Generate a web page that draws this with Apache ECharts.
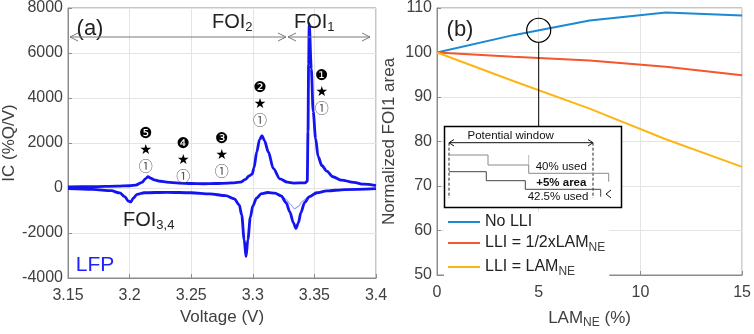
<!DOCTYPE html>
<html>
<head>
<meta charset="utf-8">
<script src="https://cdn.jsdelivr.net/npm/echarts/dist/echarts.min.js"></script>
<style>
html, body { margin: 0; padding: 0; background: #fff; }
#chart { width: 754px; height: 334px; }
</style>
</head>
<body>
<div id="chart"></div>
<script>
// panel (a): incremental capacity vs voltage
const chargeV = [3.150, 3.170, 3.190, 3.200, 3.205, 3.210, 3.213, 3.215, 3.217, 3.220, 3.225, 3.230, 3.240, 3.250, 3.260, 3.270, 3.280, 3.285, 3.290, 3.294, 3.297, 3.2995, 3.301, 3.3032, 3.3055, 3.3075, 3.3095, 3.3126, 3.3167, 3.322, 3.328, 3.333, 3.3425, 3.3442, 3.3448, 3.3453, 3.3458, 3.3475, 3.349, 3.351, 3.353, 3.356, 3.360, 3.365, 3.372, 3.382, 3.390, 3.400]
const chargeIC = [50, 60, 80, 100, 130, 250, 420, 500, 440, 360, 300, 260, 220, 200, 190, 200, 220, 230, 260, 380, 540, 620, 900, 1600, 2150, 2330, 2100, 1600, 860, 410, 260, 220, 230, 300, 2500, 5500, 7300, 5300, 3400, 2200, 1400, 1000, 750, 500, 350, 250, 170, 110]
const dischV = [3.150, 3.170, 3.185, 3.192, 3.196, 3.199, 3.201, 3.203, 3.206, 3.212, 3.230, 3.250, 3.265, 3.278, 3.285, 3.289, 3.291, 3.293, 3.2945, 3.296, 3.298, 3.300, 3.303, 3.307, 3.312, 3.318, 3.323, 3.327, 3.330, 3.333, 3.335, 3.337, 3.339, 3.342, 3.346, 3.352, 3.360, 3.375, 3.400]
const dischIC = [-30, -60, -120, -220, -380, -580, -620, -450, -280, -210, -190, -210, -260, -340, -480, -750, -1200, -2300, -3050, -2300, -1300, -800, -450, -250, -200, -230, -350, -650, -1050, -1550, -1800, -1550, -1100, -650, -380, -210, -130, -70, -30]
// lighter overlapping discharge curve (smaller FOI1 peak)
const dischFaintV = [3.312, 3.318, 3.323, 3.327, 3.330, 3.334, 3.337, 3.340, 3.345, 3.350, 3.357, 3.365]
const dischFaintIC = [-200, -230, -330, -500, -700, -920, -820, -600, -400, -260, -150, -100]

// panel (b): normalized FOI1 area vs LAM_NE
const lamNE = [0, 3.75, 7.5, 11.25, 15]
const areaNoLLI = [100, 103.9, 107.2, 109.0, 108.3]
const areaHalfLLI = [100, 99.05, 98.2, 96.8, 94.9]
const areaFullLLI = [100, 93.6, 87.4, 80.5, 74.3]
const seriesNames = ["No LLI", "LLI = 1/2xLAM_NE", "LLI = LAM_NE"]

const zip = (xs, ys) => xs.map((x, i) => [x, ys[i]])

const font = "'Liberation Sans', Arial, sans-serif"
const axisGray = "#8c8c8c"
const labelGray = "#404040"
const blue = "#1414f0"

function axisCommon(extra) {
	return Object.assign({
		type: "value",
		axisLine: { show: true, onZero: false, lineStyle: { color: axisGray } },
		axisTick: { show: true, inside: true, length: 4, lineStyle: { color: axisGray } },
		splitLine: { show: true, lineStyle: { color: "#e4e4e4" } },
		axisLabel: { color: labelGray, fontSize: 16, fontFamily: font },
		nameTextStyle: { color: labelGray, fontSize: 17, fontFamily: font }
	}, extra)
}

const subRich = {
	s: { fontSize: 12, fontFamily: font, color: labelGray, padding: [10, 0, 0, 0] }
}

const chart = echarts.init(document.getElementById("chart"), null, { renderer: "canvas" })

const option = {
	animation: false,
	backgroundColor: "#fff",
	grid: [
		{ left: 68, top: 7, width: 308, height: 271, show: true, borderColor: axisGray, borderWidth: 1 },
		{ left: 437, top: 7, width: 306, height: 271, show: true, borderColor: axisGray, borderWidth: 1 }
	],
	xAxis: [
		axisCommon({
			gridIndex: 0, min: 3.15, max: 3.4, interval: 0.05,
			name: "Voltage (V)", nameLocation: "middle", nameGap: 30,
			axisLabel: { color: labelGray, fontSize: 16, fontFamily: font, margin: 10,
				formatter: v => String(+v.toFixed(2)) }
		}),
		axisCommon({
			gridIndex: 1, min: 0, max: 15, interval: 5,
			name: "LAM{s|NE} (%)", nameLocation: "middle", nameGap: 32,
			nameTextStyle: { color: labelGray, fontSize: 17, fontFamily: font, rich: subRich },
			axisLabel: { color: labelGray, fontSize: 16, fontFamily: font, margin: 10 }
		})
	],
	yAxis: [
		axisCommon({
			gridIndex: 0, min: -4000, max: 8000, interval: 2000,
			name: "IC (%Q/V)", nameLocation: "middle", nameGap: 40,
			axisLabel: { color: labelGray, fontSize: 16, fontFamily: font, margin: 5,
				formatter: v => String(v) }
		}),
		axisCommon({
			gridIndex: 1, min: 50, max: 110, interval: 10,
			name: "Normalized FOI1 area", nameLocation: "middle", nameGap: 39,
			axisLabel: { color: labelGray, fontSize: 16, fontFamily: font, margin: 5 }
		})
	],
	legend: {
		left: 444, top: 212, orient: "vertical", itemGap: 5,
		icon: "rect", itemWidth: 32, itemHeight: 2, backgroundColor: "#fff", padding: [2, 4, 2, 4],
		data: seriesNames,
		formatter: n => n.replace("_NE", "{s|NE}"),
		textStyle: { color: "#222", fontSize: 16, fontFamily: font, rich: subRich },
		z: 6
	},
	series: [
		{ type: "line", xAxisIndex: 0, yAxisIndex: 0, data: zip(dischFaintV, dischFaintIC),
			showSymbol: false, symbol: "none", smooth: 0.3, smoothMonotone: "x",
			lineStyle: { color: "#a0a0ff", width: 1.2 }, silent: true },
		{ type: "line", xAxisIndex: 0, yAxisIndex: 0, data: zip(chargeV, chargeIC),
			showSymbol: false, symbol: "none", smooth: 0.3, smoothMonotone: "x",
			lineStyle: { color: blue, width: 2.8 } },
		{ type: "line", xAxisIndex: 0, yAxisIndex: 0, data: zip(dischV, dischIC),
			showSymbol: false, symbol: "none", smooth: 0.3, smoothMonotone: "x",
			lineStyle: { color: blue, width: 2.8 } },
		{ name: seriesNames[0], type: "line", xAxisIndex: 1, yAxisIndex: 1, data: zip(lamNE, areaNoLLI),
			symbol: "none", color: "#1b8ad3", lineStyle: { width: 2 } },
		{ name: seriesNames[1], type: "line", xAxisIndex: 1, yAxisIndex: 1, data: zip(lamNE, areaHalfLLI),
			symbol: "none", color: "#f5562a", lineStyle: { width: 2 } },
		{ name: seriesNames[2], type: "line", xAxisIndex: 1, yAxisIndex: 1, data: zip(lamNE, areaFullLLI),
			symbol: "none", color: "#fdb515", lineStyle: { width: 2 } }
	]
}
chart.setOption(option)

// ---- annotations ----
const g = []
const txt = (x, y, text, size, color, extra) => ({
	type: "text", x: x, y: y, z: 10,
	style: Object.assign({ text: text, fontSize: size, fill: color, fontFamily: font, align: "center", verticalAlign: "middle" }, extra || {})
})
const line = (pts, color, width, dash) => ({
	type: "polyline", z: 10, shape: { points: pts },
	style: { stroke: color, lineWidth: width || 1, fill: null, lineDash: dash || null }
})
const foiRich = {
	a: { fontSize: 20, fontFamily: font, fill: "#222" },
	b: { fontSize: 13, fontFamily: font, fill: "#222", padding: [10, 0, 0, 0] }
}

// panel (a)
g.push(txt(90, 29, "(a)", 22, "#222"))
g.push(txt(212, 22, "{a|FOI}{b|2}", 20, "#222", { align: "left", rich: foiRich }))
g.push(txt(294, 22, "{a|FOI}{b|1}", 20, "#222", { align: "left", rich: foiRich }))
g.push(txt(123, 220, "{a|FOI}{b|3,4}", 20, "#222", { align: "left", rich: foiRich }))
g.push(txt(95, 265, "LFP", 21, "#1f1fff"))
const arrowGray = "#7a7a7a"
g.push(line([[70, 37], [286, 37]], arrowGray, 1))
g.push(line([[78, 33], [70, 37], [78, 41]], arrowGray, 1))
g.push(line([[278, 33], [286, 37], [278, 41]], arrowGray, 1))
g.push(line([[288, 37], [370, 37]], arrowGray, 1))
g.push(line([[296, 33], [288, 37], [296, 41]], arrowGray, 1))
g.push(line([[362, 33], [370, 37], [362, 41]], arrowGray, 1))

// peak markers: number, star, circled one
const markerX = [321.7, 260, 221.7, 183.3, 145.7]
const markerTop = [76, 88, 139, 144, 134]
const markerNum = ["❶", "❷", "❸", "❹", "❺"]
const symFont = "'DejaVu Sans', 'Noto Sans CJK SC'"
markerX.forEach((x, i) => {
	const y0 = markerTop[i]
	g.push(txt(x, y0, markerNum[i], 15, "#000", { fontFamily: symFont }))
	g.push(txt(x, y0 + 16, "★", 14, "#000", { fontFamily: symFont }))
	g.push(txt(x, y0 + 32, "①", 14, "#555", { fontFamily: "'Noto Sans CJK SC'" }))
})

// panel (b)
g.push(txt(460, 30, "(b)", 22, "#222"))
const c = chart.convertToPixel({ xAxisIndex: 1, yAxisIndex: 1 }, [5, 105])
g.push({ type: "circle", z: 10, shape: { cx: c[0], cy: c[1], r: 12 }, style: { stroke: "#000", lineWidth: 1.2, fill: null } })
g.push(line([[c[0], c[1] + 12], [c[0], 127]], "#000", 1))

// inset schematic
g.push({ type: "rect", z: 9, shape: { x: 444.5, y: 126.5, width: 177, height: 81 }, style: { stroke: "#000", lineWidth: 1.5, fill: "#fff" } })
g.push(txt(510.7, 135.5, "Potential window", 11.5, "#111"))
g.push(line([[449, 142.7], [593, 142.7]], "#111", 1))
g.push(line([[454, 139.5], [449, 142.7], [454, 146]], "#111", 1))
g.push(line([[588, 139.5], [593, 142.7], [588, 146]], "#111", 1))
g.push(line([[449, 142.7], [449, 198]], "#222", 1, [3, 2]))
g.push(line([[593, 142.7], [593, 198]], "#222", 1, [3, 2]))
g.push(line([[449, 155], [488, 155], [488, 165], [528.7, 165], [528.7, 173.3], [608.7, 173.3], [608.7, 181.7]], "#8a8a8a", 1))
g.push(line([[528.7, 155], [528.7, 165]], "#bbb", 1))
g.push(line([[449, 171.7], [486.3, 171.7], [486.3, 180.7], [525.3, 180.7], [525.3, 189.3], [600.7, 189.3], [600.7, 196.7]], "#444", 1))
g.push(txt(561.3, 167, "40% used", 11.5, "#111"))
g.push(txt(561.3, 182.5, "+5% area", 11.5, "#111", { fontWeight: "bold" }))
g.push(txt(558, 197, "42.5% used", 11.5, "#111"))
g.push(line([[611, 190], [606, 194], [611, 198]], "#111", 1))

chart.setOption({ graphic: g })
</script>
</body>
</html>
